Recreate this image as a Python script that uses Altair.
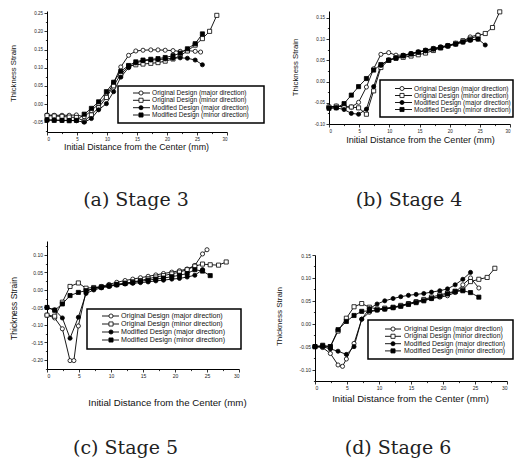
import altair as alt
import pandas as pd

SERIES = ["Original Design (major direction)", "Original Design (minor direction)",
          "Modified Design (major direction)", "Modified Design (minor direction)"]
SHAPES = ["circle", "square", "circle", "square"]
FILLS = ["white", "white", "black", "black"]

# ---------------- Stage 3 ----------------
s3_om_x = [0, 1.2, 2.5, 3.7, 4.9, 6.2, 7.4, 8.6, 9.9, 11.1, 12.3, 13.6, 14.8, 16.0, 17.3, 18.5, 19.7, 21.0, 22.2, 23.4, 24.7, 25.6]
s3_om_y = [-0.030, -0.031, -0.031, -0.031, -0.030, -0.035, -0.018, 0.000, 0.022, 0.058, 0.102, 0.134, 0.146, 0.148, 0.149, 0.149, 0.148, 0.147, 0.145, 0.147, 0.145, 0.143]
s3_os_x = [0, 1.2, 2.5, 3.7, 4.9, 6.2, 7.4, 8.6, 9.9, 11.1, 12.3, 13.6, 14.8, 16.0, 17.3, 18.5, 19.7, 21.0, 22.2, 23.4, 24.7, 25.9, 27.1, 28.3]
s3_os_y = [-0.032, -0.033, -0.034, -0.036, -0.037, -0.047, -0.030, -0.010, 0.018, 0.050, 0.082, 0.104, 0.108, 0.110, 0.112, 0.114, 0.118, 0.124, 0.133, 0.146, 0.162, 0.180, 0.200, 0.244]
s3_mm_x = [0, 1.2, 2.5, 3.7, 4.9, 6.2, 7.4, 8.6, 9.9, 11.1, 12.3, 13.6, 14.8, 16.0, 17.3, 18.5, 19.7, 21.0, 22.2, 23.4, 24.7, 25.9]
s3_mm_y = [-0.044, -0.044, -0.045, -0.045, -0.046, -0.050, -0.040, -0.016, 0.001, 0.034, 0.074, 0.100, 0.113, 0.119, 0.121, 0.122, 0.124, 0.126, 0.127, 0.126, 0.121, 0.108]
s3_ms_x = [0, 1.2, 2.5, 3.7, 4.9, 6.2, 7.4, 8.6, 9.9, 11.1, 12.3, 13.6, 14.8, 16.0, 17.3, 18.5, 19.7, 21.0, 22.2, 23.4, 24.7, 25.9]
s3_ms_y = [-0.044, -0.045, -0.045, -0.046, -0.045, -0.028, -0.012, 0.006, 0.034, 0.060, 0.090, 0.106, 0.116, 0.121, 0.123, 0.125, 0.128, 0.133, 0.140, 0.152, 0.166, 0.193]

# ---------------- Stage 4 ----------------
s4_om_x = [0, 1.2, 2.5, 3.7, 4.9, 6.2, 7.4, 8.6, 9.9, 11.1, 12.3, 13.6, 14.8, 16.0, 17.3, 18.5, 19.7, 21.0, 22.2, 23.4, 24.7]
s4_om_y = [-0.060, -0.058, -0.059, -0.060, -0.049, -0.013, 0.030, 0.064, 0.068, 0.062, 0.062, 0.066, 0.070, 0.074, 0.078, 0.082, 0.085, 0.090, 0.095, 0.105, 0.110]
s4_os_x = [0, 1.2, 2.5, 3.7, 4.9, 6.2, 7.4, 8.6, 9.9, 11.1, 12.3, 13.6, 14.8, 16.0, 17.3, 18.5, 19.7, 21.0, 22.2, 23.4, 24.7, 25.9, 27.1, 28.3]
s4_os_y = [-0.060, -0.058, -0.060, -0.060, -0.062, -0.077, -0.022, 0.033, 0.050, 0.055, 0.057, 0.060, 0.063, 0.067, 0.073, 0.079, 0.084, 0.090, 0.096, 0.100, 0.108, 0.113, 0.127, 0.164]
s4_mm_x = [0, 1.2, 2.5, 3.7, 4.9, 6.2, 7.4, 8.6, 9.9, 11.1, 12.3, 13.6, 14.8, 16.0, 17.3, 18.5, 19.7, 21.0, 22.2, 23.4, 24.7, 25.9]
s4_mm_y = [-0.062, -0.062, -0.066, -0.075, -0.077, -0.065, -0.012, 0.038, 0.051, 0.056, 0.060, 0.065, 0.069, 0.072, 0.076, 0.080, 0.083, 0.088, 0.093, 0.097, 0.100, 0.086]
s4_ms_x = [0, 1.2, 2.5, 3.7, 4.9, 6.2, 7.4, 8.6, 9.9, 11.1, 12.3, 13.6, 14.8, 16.0, 17.3, 18.5, 19.7, 21.0, 22.2, 23.4, 24.7]
s4_ms_y = [-0.063, -0.062, -0.052, -0.032, -0.012, 0.007, 0.027, 0.040, 0.050, 0.055, 0.061, 0.065, 0.069, 0.073, 0.077, 0.080, 0.084, 0.088, 0.093, 0.098, 0.100]

# ---------------- Stage 5 ----------------
s5_om_x = [0, 1.2, 2.4, 3.6, 4.2, 4.9, 6.1, 7.3, 8.5, 9.7, 10.9, 12.2, 13.4, 14.6, 15.8, 17.0, 18.2, 19.5, 20.7, 21.9, 23.1, 24.3, 25.0]
s5_om_y = [-0.072, -0.080, -0.111, -0.202, -0.202, -0.103, -0.004, 0.005, 0.010, 0.016, 0.022, 0.027, 0.031, 0.035, 0.039, 0.043, 0.047, 0.051, 0.055, 0.060, 0.070, 0.103, 0.115]
s5_os_x = [0, 1.2, 2.4, 3.6, 4.9, 6.1, 7.3, 8.5, 9.7, 10.9, 12.2, 13.4, 14.6, 15.8, 17.0, 18.2, 19.5, 20.7, 21.9, 23.1, 24.3, 25.5, 26.8, 28.0]
s5_os_y = [-0.072, -0.075, -0.035, 0.010, 0.020, 0.005, 0.007, 0.009, 0.012, 0.015, 0.019, 0.023, 0.027, 0.032, 0.037, 0.041, 0.046, 0.051, 0.058, 0.068, 0.074, 0.072, 0.071, 0.080]
s5_mm_x = [0, 1.2, 2.4, 3.6, 4.9, 6.1, 7.3, 8.5, 9.7, 10.9, 12.2, 13.4, 14.6, 15.8, 17.0, 18.2, 19.5, 20.7, 21.9, 23.1, 24.3]
s5_mm_y = [-0.050, -0.057, -0.080, -0.138, -0.078, -0.010, 0.000, 0.006, 0.010, 0.014, 0.017, 0.019, 0.021, 0.023, 0.026, 0.028, 0.031, 0.033, 0.037, 0.042, 0.058]
s5_ms_x = [0, 1.2, 2.4, 3.6, 4.9, 6.1, 7.3, 8.5, 9.7, 10.9, 12.2, 13.4, 14.6, 15.8, 17.0, 18.2, 19.5, 20.7, 21.9, 23.1, 24.3, 25.5]
s5_ms_y = [-0.050, -0.058, -0.040, -0.016, -0.007, -0.002, 0.004, 0.008, 0.012, 0.016, 0.019, 0.022, 0.025, 0.028, 0.031, 0.034, 0.038, 0.042, 0.047, 0.058, 0.054, 0.041]

# ---------------- Stage 6 ----------------
s6_om_x = [0, 1.2, 2.4, 3.6, 4.3, 4.9, 6.1, 7.3, 8.5, 9.7, 10.9, 12.2, 13.4, 14.6, 15.8, 17.0, 18.2, 19.5, 20.7, 21.9, 23.1, 24.3, 25.6]
s6_om_y = [-0.050, -0.052, -0.065, -0.090, -0.093, -0.077, -0.043, 0.010, 0.025, 0.030, 0.032, 0.035, 0.039, 0.044, 0.048, 0.052, 0.055, 0.058, 0.061, 0.068, 0.085, 0.100, 0.078]
s6_os_x = [0, 1.2, 2.4, 3.6, 4.9, 6.1, 7.3, 8.5, 9.7, 10.9, 12.2, 13.4, 14.6, 15.8, 17.0, 18.2, 19.5, 20.7, 21.9, 23.1, 24.3, 25.6, 26.9, 28.1]
s6_os_y = [-0.050, -0.050, -0.050, -0.016, 0.012, 0.037, 0.044, 0.036, 0.032, 0.034, 0.036, 0.040, 0.044, 0.048, 0.053, 0.058, 0.063, 0.067, 0.071, 0.074, 0.092, 0.097, 0.101, 0.121]
s6_mm_x = [0, 1.2, 2.4, 3.6, 4.9, 6.1, 7.3, 8.5, 9.7, 10.9, 12.2, 13.4, 14.6, 15.8, 17.0, 18.2, 19.5, 20.7, 21.9, 23.1, 24.3]
s6_mm_y = [-0.050, -0.050, -0.055, -0.060, -0.067, -0.050, 0.010, 0.033, 0.043, 0.050, 0.055, 0.059, 0.062, 0.064, 0.066, 0.069, 0.072, 0.076, 0.085, 0.097, 0.112]
s6_ms_x = [0, 1.2, 2.4, 3.6, 4.9, 6.1, 7.3, 8.5, 9.7, 10.9, 12.2, 13.4, 14.6, 15.8, 17.0, 18.2, 19.5, 20.7, 21.9, 23.1, 24.3, 25.6]
s6_ms_y = [-0.050, -0.047, -0.050, -0.013, 0.005, 0.018, 0.027, 0.028, 0.030, 0.032, 0.035, 0.038, 0.042, 0.046, 0.050, 0.055, 0.060, 0.065, 0.070, 0.072, 0.068, 0.058]

CAPTIONS = ["(a)  Stage 3", "(b)  Stage 4", "(c)  Stage 5", "(d)  Stage 6"]
X_TITLE = "Initial Distance from the Center (mm)"
Y_TITLE = "Thickness Strain"

FONT = "Liberation Sans"
SERIF = "DejaVu Serif"
dummy = pd.DataFrame({"k": [0]})


def make_df(pairs):
    rows = []
    for name, xs, ys in zip(SERIES, pairs[0::2], pairs[1::2]):
        for i, (x, y) in enumerate(zip(xs, ys)):
            rows.append({"series": name, "x": x, "y": y, "i": i})
    return pd.DataFrame(rows)


def panel(df, ydom, yticks, w, h, lab_fs, xt, yt, leg, cap):
    x_major = "datum.value % 5 == 0"
    y_major = "abs(round(datum.value*1000)) % 50 == 0"
    xvals = [v * 2.5 for v in range(13)]
    xaxis = alt.Axis(
        values=xvals, tickCount=len(xvals), labelExpr=f"{x_major} ? datum.label : ''",
        labelOverlap=False,
        tickSize={"condition": {"test": x_major, "value": 3}, "value": 1.6},
        labelFontSize=lab_fs, labelPadding=1.5, labelFont=FONT, labelColor="#222",
        title=X_TITLE, titleFont=FONT, titleFontSize=xt[0], titleFontWeight="normal",
        titleX=xt[1], titleY=xt[2], titleAnchor="middle", titleAlign="center",
        titleBaseline="middle", titleColor="#111", grid=False,
        domainColor="black", tickColor="black", tickWidth=0.8, domainWidth=1)
    yaxis = alt.Axis(
        values=yticks, tickCount=len(yticks), format=".2f",
        labelExpr=f"{y_major} ? replace(datum.label, '\u2212', '-') : ''",
        labelOverlap=False,
        tickSize={"condition": {"test": y_major, "value": 3}, "value": 1.6},
        labelFontSize=lab_fs, labelPadding=1.5, labelFont=FONT, labelColor="#222",
        title=Y_TITLE, titleFont=FONT, titleFontSize=yt[0], titleFontWeight="normal",
        titleX=yt[1], titleY=yt[2], titleAngle=-90, titleAlign="center",
        titleBaseline="middle", titleColor="#111", grid=False,
        domainColor="black", tickColor="black", tickWidth=0.8, domainWidth=1)
    xs = alt.Scale(domain=[0, 30], nice=False, zero=False)
    ys = alt.Scale(domain=ydom, nice=False, zero=False)
    base = alt.Chart(df)
    lines = base.mark_line(color="black", strokeWidth=0.9).encode(
        x=alt.X("x:Q", scale=xs, axis=xaxis),
        y=alt.Y("y:Q", scale=ys, axis=yaxis),
        detail="series:N", order="i:Q")
    pts = base.mark_point(filled=True, stroke="black", strokeWidth=0.8, size=17, opacity=1).encode(
        x="x:Q", y="y:Q",
        shape=alt.Shape("series:N", scale=alt.Scale(domain=SERIES, range=SHAPES), legend=None),
        fill=alt.Fill("series:N", scale=alt.Scale(domain=SERIES, range=FILLS), legend=None))
    layers = [lines, pts]
    bx1, bx2, by1, by2, rows, l1, l2, mx, tx, fs = leg
    layers.append(alt.Chart(dummy).mark_rect(fill="white", stroke="black", strokeWidth=1.5).encode(
        x=alt.value(bx1), x2=alt.value(bx2), y=alt.value(by1), y2=alt.value(by2)))
    for name, shp, fil, ry in zip(SERIES, SHAPES, FILLS, rows):
        layers.append(alt.Chart(dummy).mark_rule(color="black", strokeWidth=0.9).encode(
            x=alt.value(l1), x2=alt.value(l2), y=alt.value(ry)))
        layers.append(alt.Chart(dummy).mark_point(shape=shp, filled=True, fill=fil, stroke="black",
                                                  strokeWidth=0.8, size=17, opacity=1).encode(
            x=alt.value(mx), y=alt.value(ry)))
        layers.append(alt.Chart(dummy).mark_text(align="left", baseline="middle", font=FONT,
                                                 fontSize=fs, color="#111").encode(
            x=alt.value(tx), y=alt.value(ry), text=alt.value(name)))
    ctext, cx, cy = cap
    layers.append(alt.Chart(dummy).mark_text(align="center", baseline="alphabetic", font=SERIF,
                                             fontSize=19, color="#222").encode(
        x=alt.value(cx), y=alt.value(cy), text=alt.value(ctext)))
    return alt.layer(*layers).properties(width=w, height=h)


def ticks(lo, n):
    return [round(lo + 0.025 * k, 3) for k in range(n)]


df3 = make_df([s3_om_x, s3_om_y, s3_os_x, s3_os_y, s3_mm_x, s3_mm_y, s3_ms_x, s3_ms_y])
df4 = make_df([s4_om_x, s4_om_y, s4_os_x, s4_os_y, s4_mm_x, s4_mm_y, s4_ms_x, s4_ms_y])
df5 = make_df([s5_om_x, s5_om_y, s5_os_x, s5_os_y, s5_mm_x, s5_mm_y, s5_ms_x, s5_ms_y])
df6 = make_df([s6_om_x, s6_om_y, s6_os_x, s6_os_y, s6_mm_x, s6_mm_y, s6_ms_x, s6_ms_y])

pa = panel(df3, [-0.077, 0.256], ticks(-0.075, 14), 180, 121, 4.5,
           (8.9, 89, 14), (7.7, -34, 62),
           (71, 217, 75, 112, [82, 89.3, 96.7, 104], 86, 103, 94, 105, 6.6),
           (CAPTIONS[0], 89, 195))
pb = panel(df4, [-0.10, 0.166], ticks(-0.10, 11), 181, 113, 4.5,
           (9.1, 91, 15), (7.8, -34, 56),
           (51, 184, 69, 106, [77.5, 84.5, 91.5, 98.5], 66, 83, 73, 85, 6.6),
           (CAPTIONS[1], 80, 195))
pc = panel(df5, [-0.226, 0.14], ticks(-0.225, 15), 192, 128, 5,
           (9.7, 120, 33), (8.5, -34, 67),
           (40, 194, 68, 108, [75, 83, 91, 99], 55, 72, 64, 74, 7.1),
           (CAPTIONS[2], 78.5, 213))
pd_ = panel(df6, [-0.125, 0.15], ticks(-0.125, 12), 192, 126, 5,
            (9.6, 95, 17), (8.0, -36, 61),
            (53, 198, 65, 104, [74, 81.3, 88.7, 95.9], 70, 86, 78, 89, 6.9),
            (CAPTIONS[3], 83, 199))

spacer = alt.Chart(dummy).mark_point(opacity=0).encode(
    x=alt.value(0), y=alt.value(0)).properties(width=1, height=14)

row1 = alt.hconcat(pa, pb, spacing=102, bounds="flush")
row2 = alt.hconcat(pc, alt.vconcat(spacer, pd_, spacing=0, bounds="flush"), spacing=76, bounds="flush")
chart = alt.vconcat(row1, row2, spacing=230, bounds="flush",
                    padding={"left": 0, "top": 0, "right": 0, "bottom": 0},
                    background="white").configure_view(stroke=None)

chart.save("out.html", embed_options={"renderer": "svg", "actions": False})
